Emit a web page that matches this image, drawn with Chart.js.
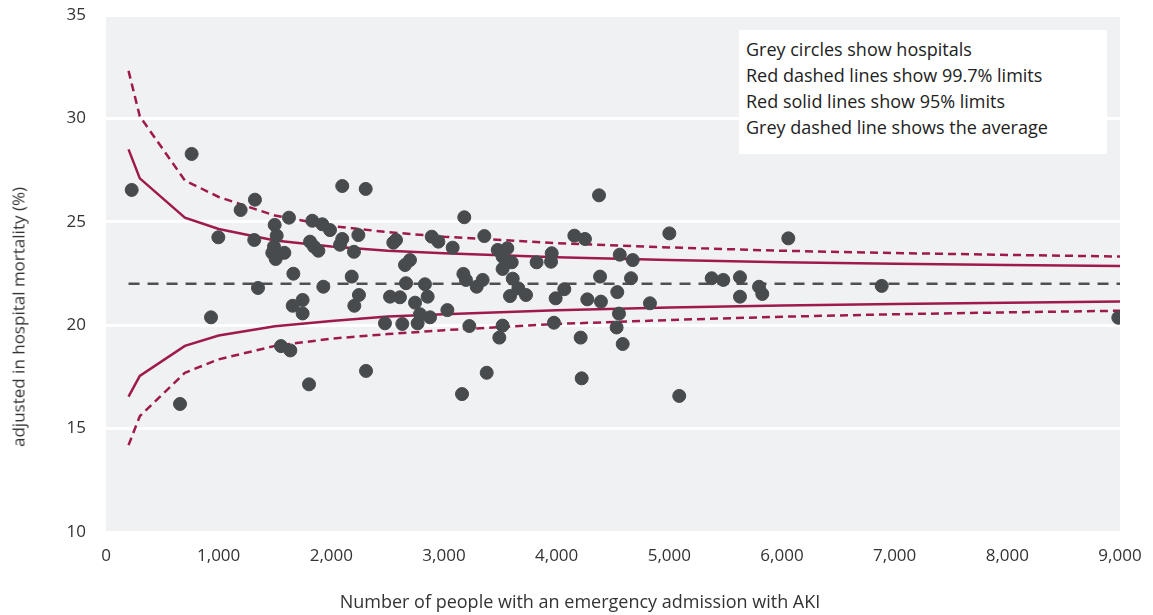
<!DOCTYPE html>
<html>
<head>
<meta charset="utf-8">
<script src="https://cdn.jsdelivr.net/npm/chart.js@4"></script>
<style>
  html, body { margin:0; padding:0; background:#fff; }
  #wrap { position:relative; width:1153px; height:615px; }
  #note {
    position:absolute; left:739px; top:30px; width:361px; height:118px;
    background:#fff; padding:6px 0 0 7px; box-sizing:content-box;
    font-family:"Open Sans", sans-serif; font-size:18px; line-height:26px; color:#222;
  }
  #ytitle {
    position:absolute; left:18px; top:317px; transform:translate(-50%,-50%) rotate(-90deg);
    white-space:nowrap; font-family:"Open Sans", sans-serif; font-size:17px; color:#333;
  }
  #xtitle {
    position:absolute; left:580px; top:601px; transform:translate(-50%,-50%);
    white-space:nowrap; font-family:"Open Sans", sans-serif; font-size:18px; color:#333;
  }
</style>
</head>
<body>
<div id="wrap">
  <canvas id="chart" width="1153" height="615"></canvas>
  <div id="ytitle">adjusted in hospital mortality (%)</div>
  <div id="xtitle">Number of people with an emergency admission with AKI</div>
  <div id="note">
    Grey circles show hospitals<br>
    Red dashed lines show 99.7% limits<br>
    Red solid lines show 95% limits<br>
    Grey dashed line shows the average
  </div>
</div>
<script>
// --- DATA ---
// hospitals: number of admissions with AKI, adjusted mortality (%)
const admissions = [228,760,657,932,997,1195,1322,1316,1349,
  1624,1497,1515,1491,1583,1476,1506,1663,1657,1553,1636,
  2097,2305,1831,1920,1988,2097,2240,2077,1811,1885,1846,2201,2574,2550,2891,2950,3077,2698,2654,2181,
  1929,2663,2831,2245,2204,2521,2609,2743,2855,3030,1745,1745,2476,2630,2766,2787,2876,1802,2308,3160,
  3180,4376,3358,3477,3562,3520,3601,3520,3822,3956,3950,4157,4251,4560,
  3172,3195,3290,3343,3610,3660,3586,3728,4068,3991,4385,4272,4393,4538,3225,3520,3491,3976,4213,4553,
  4532,4586,3379,4222,
  5000,6056,4675,4660,4828,5376,5479,5627,5627,5796,5825,5088,6885,8985];
const mortality = [26.54,28.28,16.19,20.38,24.25,25.57,26.07,24.12,21.8,
  25.2,24.85,24.33,23.8,23.5,23.5,23.2,22.49,20.94,18.99,18.78,
  26.73,26.59,25.05,24.88,24.6,24.17,24.36,23.89,24.04,23.6,23.8,23.55,24.12,23.99,24.28,24.04,23.75,23.15,22.91,22.35,
  21.86,22.03,21.98,21.46,20.94,21.38,21.35,21.09,21.38,20.73,21.22,20.57,20.09,20.06,20.09,20.53,20.38,17.14,17.79,16.67,
  25.22,26.28,24.31,23.64,23.72,23.31,23.04,22.72,23.04,23.48,23.07,24.33,24.17,23.41,
  22.48,22.19,21.86,22.19,22.25,21.78,21.41,21.46,21.74,21.3,22.35,21.25,21.14,21.6,19.96,19.98,19.4,20.12,19.4,20.56,
  19.89,19.09,17.7,17.43,
  24.44,24.2,23.15,22.27,21.06,22.27,22.19,22.32,21.38,21.86,21.51,16.58,21.9,20.36];

// funnel limits
const limitN   = [200,300,700,1000,1500,2000,2500,3000,4000,5000,6000,7000,8000,9000];
const upper95  = [28.5,27.1,25.2,24.65,24.1,23.8,23.6,23.48,23.28,23.15,23.05,22.97,22.91,22.86];
const lower95  = [16.55,17.55,19.0,19.5,19.95,20.2,20.42,20.53,20.72,20.85,20.95,21.03,21.09,21.15];
const upper997 = [32.3,30.1,27.0,26.2,25.3,24.8,24.5,24.28,23.97,23.76,23.6,23.49,23.4,23.32];
const lower997 = [14.2,15.6,17.7,18.35,19.0,19.35,19.57,19.76,20.06,20.25,20.41,20.53,20.62,20.7];
const averageN = [200,9000];
const average  = [22,22];

const xTicks = [0,1000,2000,3000,4000,5000,6000,7000,8000,9000];
const yTicks = [10,15,20,25,30,35];

const RED = '#9e1a4c';
const FONT = '"Open Sans", sans-serif';

const pts = (xs, ys) => xs.map((x,i) => ({x, y: ys[i]}));
const lineSet = (xs, ys, dash, color) => ({
  data: pts(xs, ys), showLine:true, pointRadius:0, borderColor:color,
  borderWidth:2.5, borderDash:dash, fill:false, order:1, tension:0
});

// grey plot background
const plotBg = {
  id:'plotBg',
  beforeDraw(c){
    const a = c.chartArea, ctx = c.ctx;
    ctx.save();
    ctx.fillStyle = '#f0f1f3';
    ctx.fillRect(a.left, a.top, a.right-a.left, a.bottom-a.top);
    ctx.restore();
  }
};

new Chart(document.getElementById('chart'), {
  type:'scatter',
  data:{
    datasets:[
      {data: pts(admissions, mortality), backgroundColor:'#474b4d', borderColor:'#474b4d',
       pointRadius:6.5, pointHoverRadius:6.5, order:0},
      lineSet(limitN, upper997, [8,5], RED),
      lineSet(limitN, lower997, [8,5], RED),
      lineSet(limitN, upper95, [], RED),
      lineSet(limitN, lower95, [], RED),
      lineSet(averageN, average, [11,8], '#4d5153')
    ]
  },
  options:{
    responsive:false, animation:false,
    layout:{padding:{left:0, right:33, top:15, bottom:0}},
    plugins:{legend:{display:false}, tooltip:{enabled:false}},
    scales:{
      x:{
        type:'linear', min:0, max:9000,
        afterBuildTicks: s => { s.ticks = xTicks.map(v => ({value:v})); },
        afterFit: s => { s.height = 83; s.paddingLeft = 0; s.paddingRight = 0; },
        grid:{display:false, drawTicks:false},
        border:{display:false},
        ticks:{padding:14, color:'#333', font:{family:FONT, size:17},
               callback: v => v.toLocaleString('en-US'), maxRotation:0}
      },
      y:{
        min:10, max:35,
        afterBuildTicks: s => { s.ticks = yTicks.map(v => ({value:v})); },
        afterFit: s => { s.width = 106; s.paddingTop = 0; s.paddingBottom = 0; },
        grid:{color:'#ffffff', lineWidth:3, drawTicks:false},
        border:{display:false},
        ticks:{padding:20, color:'#333', font:{family:FONT, size:17}}
      }
    }
  },
  plugins:[plotBg]
});
</script>
</body>
</html>
